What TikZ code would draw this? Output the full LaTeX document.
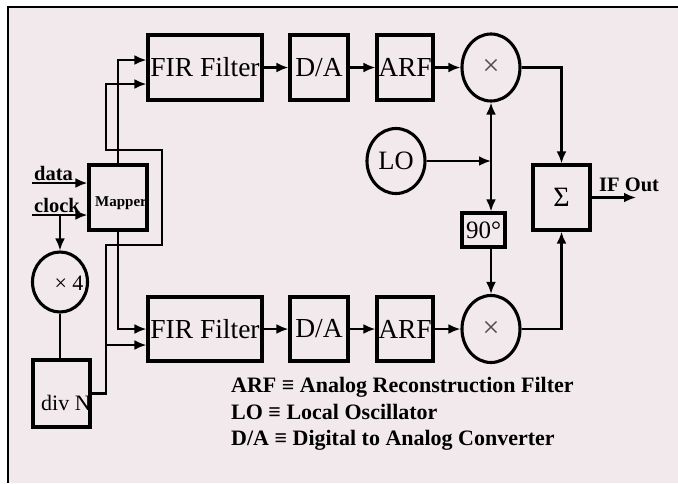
\documentclass[tikz,border=0pt]{standalone}
\usepackage{fontspec}
\setmainfont{Liberation Serif}
\usetikzlibrary{arrows.meta,shapes.geometric}
\definecolor{bgpink}{RGB}{242,233,237}
\begin{document}
\begin{tikzpicture}[x=1pt,y=-1pt,
  blk/.style={draw, line width=3.1pt, inner sep=0pt, font=\fontsize{27.5}{30}\selectfont},
  circ/.style={draw, ellipse, line width=3.1pt, inner sep=0pt, font=\fontsize{26.5}{30}\selectfont},
  wire/.style={line width=2.9pt},
  arr/.style={wire, -{Latex[length=12pt,width=10pt]}},
  lbl/.style={inner sep=0pt, font=\bfseries\fontsize{20.5}{22}\selectfont},
  legend/.style={inner sep=0pt, anchor=base west, font=\bfseries\fontsize{22}{24}\selectfont}]

\useasboundingbox (0,0) rectangle (678,483);
\fill[white] (0,0) rectangle (678,483);
\fill[bgpink] (8,7) rectangle (678,483);
\draw[line width=2.2pt] (8,483) -- (8,7) -- (678,7);

% upper branch
\node[blk, minimum width=114pt, minimum height=65pt] (firT) at (205,67.5) {FIR Filter};
\node[blk, minimum width=58pt, minimum height=65pt] (daT) at (319,67.5) {D/A};
\node[blk, minimum width=56pt, minimum height=65pt] (arfT) at (405,67.5) {ARF};
\node[circ, minimum width=58pt, minimum height=67pt, font=\fontsize{30}{32}\selectfont] (mixT) at (491,67.5) {\textcolor{black!70}{×}};

% lower branch
\node[blk, minimum width=114pt, minimum height=64pt] (firB) at (205,329) {FIR Filter};
\node[blk, minimum width=58pt, minimum height=64pt] (daB) at (319,329) {D/A};
\node[blk, minimum width=56pt, minimum height=64pt] (arfB) at (405,329) {ARF};
\node[circ, minimum width=58pt, minimum height=67pt, font=\fontsize{30}{32}\selectfont] (mixB) at (491,329) {\textcolor{black!70}{×}};

% LO, 90, sum
\node[circ, minimum width=58pt, minimum height=65pt] (LO) at (396,161) {LO};
\node[blk, minimum width=43pt, minimum height=34pt, font=\fontsize{25}{28}\selectfont] (ph90) at (483.5,230) {90°};
\node[blk, minimum width=57pt, minimum height=65pt, font=\fontsize{28}{30}\selectfont] (sigma) at (561.5,197.5) {Σ};

% left side
\node[blk, minimum width=58pt, minimum height=65pt] (mapper) at (118,197.5) {};
\node[inner sep=0pt, font=\bfseries\fontsize{15}{16}\selectfont] (mapperT) at (121,203) {Mapper};
\node[circ, minimum width=55pt, minimum height=60pt] (times4) at (60,282) {};
\node[inner sep=0pt, font=\fontsize{22}{24}\selectfont] (times4T) at (69,283) {× 4};
\node[blk, minimum width=57pt, minimum height=67pt] (divN) at (61.5,393.5) {};
\node[inner sep=0pt, font=\fontsize{22}{24}\selectfont] (divNT) at (66,403) {div N};

% inputs
\coordinate (dataIn) at (32,183);
\coordinate (clkIn) at (32,215);
\coordinate (clkTap) at (60,215);
\node[lbl, anchor=base west] (dataL) at (34,180) {data};
\node[lbl, anchor=base west] (clockL) at (34,212) {clock};
\draw[arr] (dataIn) -- (dataIn -| mapper.west);
\draw[arr] (clkIn) -- (clkIn -| mapper.west);
\draw[arr] (clkTap) -- (times4.north);
\draw[wire] (times4.south) -- (times4.south |- divN.north);

% mapper outputs
\draw[arr] (mapper.north) |- ([yshift=7.5pt]firT.west);
\draw[arr] (mapper.south) |- (firB.west);

% clock loop
\coordinate (c1) at (106,245);
\coordinate (c2) at (162,150);
\coordinate (c3) at (106,84);
\coordinate (br) at (106,345);
\draw[arr] (divN.east) -| (c1) -| (c2) -| (c3) -- ([yshift=-16.5pt]firT.west);
\draw[arr] (br) -- ([yshift=-16pt]firB.west);

% signal chains
\draw[arr] (firT) -- (daT);
\draw[arr] (daT) -- (arfT);
\draw[arr] (arfT) -- (mixT);
\draw[arr] (firB) -- (daB);
\draw[arr] (daB) -- (arfB);
\draw[arr] (arfB) -- (mixB);

% LO distribution
\coordinate (jn) at (491,161);
\draw[arr] (LO.east) -- (jn);
\draw[arr] (jn) -- (mixT.south);
\draw[arr] (jn) -- (jn |- ph90.north);
\draw[arr] (ph90.south -| jn) -- (mixB.north);

% sum
\draw[arr] (mixT.east) -| (sigma.north);
\draw[arr] (mixB.east) -| (sigma.south);
\coordinate (out) at (636,197.5);
\draw[arr] (sigma.east) -- (out);
\node[lbl, anchor=base west, font=\bfseries\fontsize{20.5}{22}\selectfont] (ifout) at (599,191) {IF Out};

% legend
\node[legend] (lg1) at (231,392) {ARF ≡ Analog Reconstruction Filter};
\node[legend] (lg2) at (231,419) {LO ≡ Local Oscillator};
\node[legend] (lg3) at (231,445) {D/A ≡ Digital to Analog Converter};
\end{tikzpicture}
\end{document}
